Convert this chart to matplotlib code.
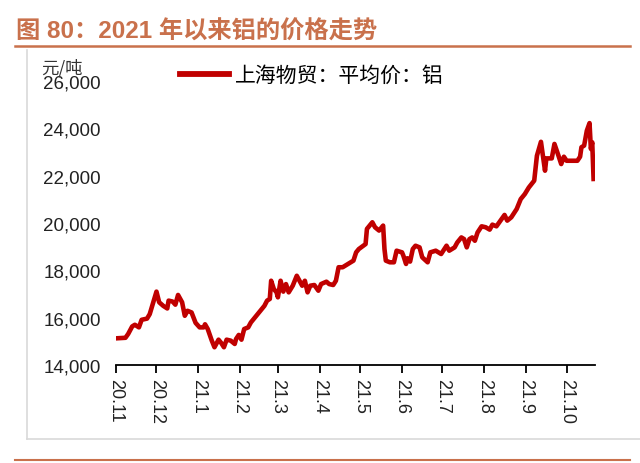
import pandas as pd
import matplotlib
matplotlib.use('Agg')
import matplotlib.pyplot as plt
from matplotlib.lines import Line2D

# 上海物贸 平均价 铝 (元/吨)
dates = [
    '2020-11-02', '2020-11-08', '2020-11-10', '2020-11-13', '2020-11-15', '2020-11-18',
    '2020-11-20', '2020-11-24', '2020-11-26', '2020-11-29', '2020-12-01', '2020-12-03',
    '2020-12-06', '2020-12-09', '2020-12-10', '2020-12-13', '2020-12-15', '2020-12-17',
    '2020-12-20', '2020-12-22', '2020-12-24', '2020-12-27', '2020-12-30', '2021-01-02',
    '2021-01-05', '2021-01-06', '2021-01-08', '2021-01-11', '2021-01-13', '2021-01-16',
    '2021-01-18', '2021-01-20', '2021-01-22', '2021-01-25', '2021-01-28', '2021-01-29',
    '2021-01-31', '2021-02-02', '2021-02-04', '2021-02-07', '2021-02-09', '2021-02-14',
    '2021-02-19', '2021-02-21', '2021-02-23', '2021-02-24', '2021-02-26', '2021-02-28',
    '2021-03-01', '2021-03-03', '2021-03-05', '2021-03-07', '2021-03-09', '2021-03-12',
    '2021-03-15', '2021-03-17', '2021-03-19', '2021-03-21', '2021-03-23', '2021-03-25',
    '2021-03-28', '2021-03-31', '2021-04-02', '2021-04-06', '2021-04-08', '2021-04-11',
    '2021-04-13', '2021-04-15', '2021-04-18', '2021-04-22', '2021-04-26', '2021-04-28',
    '2021-04-30', '2021-05-05', '2021-05-06', '2021-05-10', '2021-05-12', '2021-05-15',
    '2021-05-18', '2021-05-19', '2021-05-20', '2021-05-23', '2021-05-26', '2021-05-28',
    '2021-06-01', '2021-06-02', '2021-06-04', '2021-06-05', '2021-06-07', '2021-06-09',
    '2021-06-11', '2021-06-14', '2021-06-16', '2021-06-20', '2021-06-22', '2021-06-26',
    '2021-06-30', '2021-07-04', '2021-07-06', '2021-07-10', '2021-07-12', '2021-07-15',
    '2021-07-17', '2021-07-19', '2021-07-21', '2021-07-23', '2021-07-25', '2021-07-27',
    '2021-07-30', '2021-08-02', '2021-08-05', '2021-08-07', '2021-08-10', '2021-08-13',
    '2021-08-16', '2021-08-18', '2021-08-21', '2021-08-25', '2021-08-28', '2021-08-31',
    '2021-09-03', '2021-09-07', '2021-09-09', '2021-09-12', '2021-09-15', '2021-09-16',
    '2021-09-20', '2021-09-22', '2021-09-25', '2021-09-27', '2021-09-29', '2021-10-01',
    '2021-10-06', '2021-10-09', '2021-10-11', '2021-10-12', '2021-10-14', '2021-10-16',
    '2021-10-18', '2021-10-19', '2021-10-20', '2021-10-21',
]
prices = [
    15130, 15150, 15310, 15630, 15700, 15590,
    15910, 15960, 16150, 16720, 17100, 16650,
    16500, 16390, 16720, 16680, 16550, 16960,
    16650, 16080, 16290, 16220, 15780, 15590,
    15590, 15720, 15520, 15030, 14750, 15070,
    14930, 14750, 15070, 15030, 14890, 15100,
    15270, 15070, 15520, 15590, 15800, 16150,
    16500, 16720, 16790, 17560, 17210, 17070,
    16860, 17560, 17100, 17420, 17070, 17350,
    17770, 17560, 17350, 17560, 17070, 17350,
    17380, 17140, 17420, 17520, 17420, 17380,
    17560, 18130, 18130, 18270, 18410, 18760,
    18900, 19110, 19750, 20030, 19820, 19680,
    19890, 18900, 18410, 18340, 18340, 18830,
    18760, 18620, 18270, 18510, 18370, 18900,
    19040, 18970, 18550, 18340, 18760, 18830,
    18690, 19040, 18830, 18970, 19180, 19390,
    19320, 18970, 19320, 19390, 19250, 19600,
    19860, 19820, 19720, 19930, 19860, 20100,
    20340, 20100, 20240, 20590, 21010, 21220,
    21500, 21790, 22840, 23430, 22210, 22730,
    22730, 23340, 22840, 22490, 22800, 22630,
    22630, 22630, 22800, 23200, 23270, 23900,
    24220, 23130, 23410, 21860,
]

tick_dates = ['2020-11-01', '2020-12-01', '2021-01-01', '2021-02-01', '2021-03-01',
              '2021-04-01', '2021-05-01', '2021-06-01', '2021-07-01', '2021-08-01',
              '2021-09-01', '2021-10-01']
tick_labels = ['20.11', '20.12', '21.1', '21.2', '21.3', '21.4',
               '21.5', '21.6', '21.7', '21.8', '21.9', '21.10']
y_ticks = [14000, 16000, 18000, 20000, 22000, 24000, 26000]

title = '图 80：2021 年以来铝的价格走势'
series_name = '上海物贸：平均价：铝'
unit = '元/吨'

latin = ['Liberation Sans', 'Noto Sans CJK SC']
cjk = ['Noto Sans CJK SC', 'DejaVu Sans']
orange = '#C9714C'
red = '#C00000'

fig = plt.figure(figsize=(6.4, 4.64), dpi=100)
ax = fig.add_axes([0.18125, 0.2112, 0.7492, 0.6121])

x = pd.to_datetime(dates)
ax.plot(x, prices, color=red, lw=3.3, solid_joinstyle='round', label=series_name)

ax.set_xlim(pd.Timestamp('2020-11-01'), pd.Timestamp('2021-10-22 10:00'))
ax.set_ylim(14000, 26000)

ax.set_xticks(pd.to_datetime(tick_dates))
ax.set_xticklabels(tick_labels, rotation=-90, family=latin, fontsize=13, color='#222222')
ax.set_yticks(y_ticks)
ax.set_yticklabels(['{:,}'.format(v) for v in y_ticks], family=latin, fontsize=13.5,
                   color='#222222')

for s in ['top', 'right', 'left']:
    ax.spines[s].set_visible(False)
ax.spines['bottom'].set_linewidth(1.3)
ax.tick_params(axis='x', direction='out', length=5.5, width=1.3, pad=4)
ax.tick_params(axis='y', length=0, pad=11)

leg = ax.legend(loc='center left', bbox_to_anchor=(180 / 640, 1 - 76 / 464),
                bbox_transform=fig.transFigure, frameon=False, borderpad=0,
                borderaxespad=0, handlelength=2.35, handletextpad=0.3,
                prop={'family': cjk, 'size': 15})
leg.get_lines()[0].set_linewidth(4.2)

fig.text(62 / 640, 1 - 68 / 464, unit, family=cjk, fontsize=12.5, color='#333333',
         ha='center', va='center')

# report frame: title, rules and borders
fig.text(16 / 640, 1 - 32 / 464, title, family=latin, fontsize=17.5, fontweight='bold',
         color=orange, ha='left', va='center')
fig.add_artist(Line2D([15 / 640, 630 / 640], [1 - 47 / 464, 1 - 47 / 464], color=orange, lw=1.8))
fig.add_artist(Line2D([15 / 640, 630 / 640], [1 - 461 / 464, 1 - 461 / 464], color=orange, lw=1.5))
fig.add_artist(Line2D([27 / 640, 27 / 640], [1 - 51 / 464, 1 - 440 / 464], color='#D9D9D9', lw=1.2))
fig.add_artist(Line2D([27 / 640, 1.0], [1 - 440 / 464, 1 - 440 / 464], color='#D9D9D9', lw=1.2))

fig.savefig('out.png', dpi=100)
